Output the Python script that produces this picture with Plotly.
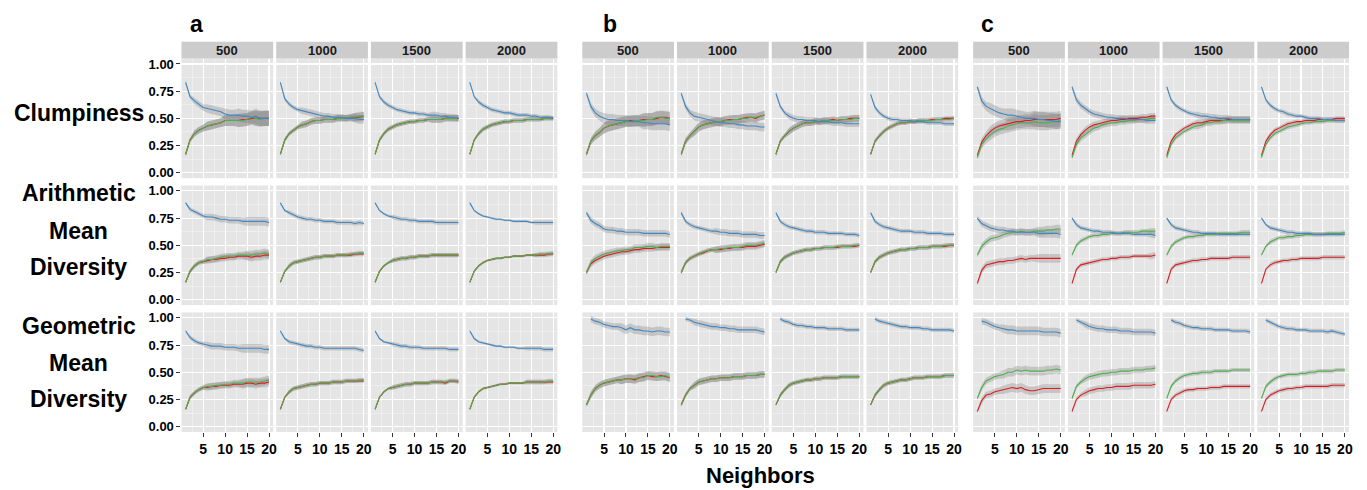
import plotly.graph_objects as go

W, H = 1367, 490
X = list(range(1, 21))
GROUPS = ["a", "b", "c"]
SIZES = ["500", "1000", "1500", "2000"]
METRICS = ["Clumpiness", "Arithmetic Mean Diversity", "Geometric Mean Diversity"]
Y_TICKS = [0, 0.25, 0.5, 0.75, 1.0]
Y_TICK_TEXT = ["0.00", "0.25", "0.50", "0.75", "1.00"]
X_TICKS = [5, 10, 15, 20]
X_TITLE = "Neighbors"
N = None

# ---- values in hundredths, one row per size (500, 1000, 1500, 2000) ----
# group a
a_clump_red = [
    [17,30,36,39,41,43,44,45,46,48,48,48,48,49,49,50,50,50,50,50],
    [17,30,36,39,42,44,45,47,48,48,49,49,49,50,50,50,51,51,51,52],
    [17,30,36,40,42,44,45,46,47,47,48,48,49,49,49,49,50,50,50,50],
    [17,30,36,40,42,44,45,46,47,47,48,48,48,49,49,49,49,50,50,50]]
a_clump_green = [
    [17,30,36,39,41,43,44,45,46,48,48,48,48,48,49,51,50,49,50,50],
    [17,30,36,39,42,44,45,47,48,48,49,49,49,50,50,50,51,51,52,52],
    [17,30,36,40,42,44,45,46,47,47,48,48,49,49,49,49,50,50,50,50],
    [17,30,36,40,42,44,45,46,47,47,48,48,48,49,49,49,49,50,50,50]]
a_clump_blue = [
    [83,70,66,63,60,59,58,57,56,54,53,53,53,52,52,51,52,50,50,50],
    [83,68,63,60,58,57,56,55,54,53,52,52,51,51,51,50,50,50,49,49],
    [83,70,65,62,60,58,57,56,55,55,54,54,53,53,53,52,52,51,51,50],
    [83,70,65,62,60,58,57,56,55,55,54,53,53,53,52,52,51,51,51,50]]
a_clump_band = [
    [2,2,3,3,3,4,4,4,4,5,5,5,6,6,6,6,7,7,7,7],
    [1,2,2,2,2,3,3,3,3,3,3,3,3,3,3,3,3,4,4,4],
    [1,2,2,2,2,2,2,2,2,2,2,2,2,3,3,3,3,3,3,3],
    [1,1,2,2,2,2,2,2,2,2,2,2,2,2,2,2,2,2,2,2]]

a_arith_red = [
    [16,26,31,34,35,36,37,37,38,38,39,39,40,40,40,39,40,40,41,41],
    [16,26,31,34,35,36,37,38,39,39,40,40,40,41,41,41,41,42,42,42],
    [16,26,31,34,36,37,38,38,39,39,40,40,40,41,41,41,41,41,41,41],
    [16,26,31,34,36,37,38,38,39,39,40,40,40,41,41,41,41,41,42,42]]
a_arith_green = [
    [16,26,31,34,35,37,37,38,39,40,40,40,41,41,41,41,42,42,43,42],
    [16,26,31,34,35,36,37,38,39,39,40,40,40,41,41,41,42,42,43,43],
    [16,26,31,34,36,37,38,38,39,39,40,40,40,41,41,41,41,41,41,41],
    [16,26,31,34,36,37,38,38,39,39,40,40,40,41,41,41,42,42,42,43]]
a_arith_blue = [
    [89,83,81,79,77,76,76,75,74,74,73,73,73,72,72,72,72,72,72,71],
    [89,82,80,78,76,75,74,74,73,73,72,72,72,71,71,71,71,70,71,70],
    [89,82,79,77,76,75,74,74,73,73,72,72,72,72,71,71,71,71,71,71],
    [89,82,79,77,76,75,74,74,73,73,72,72,72,72,71,71,71,71,71,71]]
a_arith_band = [
    [1,2,2,2,2,3,3,3,3,3,3,3,3,3,4,4,4,4,4,4],
    [1,1,2,2,2,2,2,2,2,2,2,2,2,2,2,2,2,2,2,2],
    [1,1,1,1,2,2,2,2,2,2,2,2,2,2,2,2,2,2,2,2],
    [1,1,1,1,1,1,1,1,1,1,1,1,1,1,1,2,2,2,2,2]]

a_geo_red = [
    [16,27,31,34,36,36,37,37,38,38,38,39,39,39,40,40,39,40,40,41],
    [16,27,32,35,36,37,38,39,39,40,40,40,41,41,41,42,42,42,42,42],
    [16,27,32,35,36,37,38,39,39,40,40,40,40,41,41,41,40,42,42,41],
    [16,27,32,35,36,37,38,39,39,40,40,40,40,41,41,41,41,41,41,41]]
a_geo_green = [
    [16,27,31,34,36,37,37,38,38,39,39,40,40,40,41,41,41,41,42,43],
    [16,27,32,35,36,37,38,39,39,40,40,40,41,41,41,42,42,42,43,43],
    [16,27,32,35,36,37,38,39,39,40,40,40,40,41,41,41,41,42,42,42],
    [16,27,32,35,36,37,38,39,39,40,40,40,40,41,41,41,41,41,42,42]]
a_geo_blue = [
    [88,82,79,77,76,75,74,74,74,73,73,73,72,72,72,72,72,72,71,71],
    [88,81,78,77,76,75,74,74,73,73,72,72,72,72,72,72,72,72,71,70],
    [88,81,78,77,76,75,74,74,73,73,73,72,72,72,72,72,72,71,71,71],
    [88,81,78,77,76,75,74,74,73,73,73,72,72,72,72,72,72,71,71,71]]
a_geo_band = [
    [1,2,2,2,2,3,3,3,3,3,3,3,3,4,4,4,4,4,4,4],
    [1,1,2,2,2,2,2,2,2,2,2,2,2,2,2,2,2,2,2,2],
    [1,1,1,1,2,2,2,2,2,2,2,2,2,2,2,2,2,2,2,2],
    [1,1,1,1,1,1,1,1,1,1,1,1,1,2,2,2,2,2,2,2]]

# group b
b_clump_red = [
    [17,29,34,37,41,43,44,45,46,47,48,48,48,49,49,49,50,51,51,50],
    [17,29,34,38,42,44,45,46,47,47,48,49,49,49,50,51,51,50,52,53],
    [17,29,34,38,41,43,45,46,46,47,47,48,48,49,48,49,49,50,50,50],
    [17,29,34,38,41,43,45,46,46,47,47,48,48,48,49,49,49,50,50,50]]
b_clump_green = [
    [17,29,34,37,41,43,44,45,46,47,47,48,48,48,49,49,51,51,50,50],
    [17,29,34,38,42,44,45,46,47,47,48,48,49,49,50,50,51,51,52,53],
    [17,29,34,38,41,43,45,46,46,47,47,48,48,48,48,49,49,49,50,50],
    [17,29,34,38,41,43,45,46,46,47,47,48,48,48,48,49,49,49,49,50]]
b_clump_blue = [
    [73,61,55,52,50,49,49,48,48,48,47,47,47,46,46,45,45,45,45,44],
    [73,61,55,52,51,50,49,48,47,46,46,45,45,44,44,43,43,43,42,42],
    [73,61,55,52,50,49,49,48,48,48,47,47,47,46,46,46,45,45,45,45],
    [72,60,55,52,50,49,49,48,48,48,47,47,47,46,46,46,46,45,45,45]]
b_clump_band = [
    [2,3,4,4,5,5,5,5,5,5,5,5,5,6,6,6,6,6,6,6],
    [2,3,3,4,4,4,4,4,4,4,4,4,4,4,4,4,4,4,4,4],
    [2,2,2,3,3,3,3,3,3,3,3,3,3,3,3,3,3,3,3,3],
    [1,2,2,2,2,2,2,2,2,2,2,2,2,2,2,2,2,2,2,2]]

b_arith_red = [
    [25,33,36,38,40,41,42,43,44,44,45,46,46,47,47,47,48,48,48,48],
    [25,34,38,40,42,43,45,46,46,46,47,47,48,48,48,49,49,49,50,51],
    [25,35,39,41,43,44,45,46,46,47,47,48,48,48,48,49,49,49,49,50],
    [25,35,39,41,43,44,45,46,46,47,47,48,48,48,49,49,49,49,50,50]]
b_arith_green = [
    [25,34,38,40,42,43,44,45,45,46,46,48,48,48,49,49,48,49,49,49],
    [25,34,38,40,42,44,45,46,46,47,47,48,48,48,49,50,50,50,51,52],
    [25,35,39,41,43,44,45,46,46,47,47,48,48,48,49,49,49,49,50,50],
    [25,35,39,41,43,44,45,46,46,47,47,48,48,48,49,49,49,50,50,50]]
b_arith_blue = [
    [80,73,70,68,65,64,64,63,63,62,62,62,62,61,61,61,61,61,61,60],
    [80,72,69,67,66,65,64,63,63,62,62,61,61,61,60,60,60,60,59,59],
    [80,72,69,67,66,65,64,63,63,62,62,62,61,61,61,61,60,60,60,59],
    [80,72,69,67,66,65,64,63,63,63,62,62,62,61,61,61,61,60,60,60]]
b_arith_band = [
    [2,3,3,3,3,3,3,3,3,3,3,3,3,3,3,3,3,3,3,3],
    [2,2,2,2,2,2,2,2,3,3,3,3,3,3,3,3,3,3,3,3],
    [1,2,2,2,2,2,2,2,2,2,2,2,2,2,2,2,2,2,2,2],
    [1,2,2,2,2,2,2,2,2,2,2,2,2,2,2,2,2,2,2,2]]

b_geo_red = [
    [20,29,35,38,40,41,42,43,43,44,44,43,45,46,47,46,46,47,46,45],
    [20,29,35,38,41,42,43,44,44,45,45,45,46,46,46,47,47,47,48,48],
    [20,29,34,38,40,41,42,43,43,44,44,45,45,45,45,46,46,46,46,46],
    [20,29,34,38,40,41,42,43,43,44,45,45,45,46,46,46,46,47,47,47]]
b_geo_green = [
    [20,29,35,38,40,41,42,43,43,44,44,44,45,45,47,47,46,46,47,45],
    [20,29,35,38,41,42,43,44,44,45,45,45,46,46,46,47,47,47,48,48],
    [20,29,34,38,40,41,42,43,43,44,44,45,45,45,45,46,46,46,46,46],
    [20,29,34,38,40,41,42,43,43,44,45,45,45,46,46,46,46,47,47,47]]
b_geo_blue = [
    [N,99,97,96,94,93,92,92,91,89,91,89,89,88,88,87,88,88,87,87],
    [N,99,98,96,95,94,93,92,92,91,91,90,90,89,89,89,89,89,88,87],
    [N,99,97,96,94,93,93,92,92,91,91,91,90,90,90,90,89,89,89,89],
    [N,99,97,96,95,94,93,92,92,91,91,91,90,90,89,89,89,89,89,88]]
b_geo_band = [
    [2,3,3,3,3,3,3,3,4,4,4,4,4,4,4,4,4,4,4,4],
    [2,2,2,3,3,3,3,3,3,3,3,3,3,3,3,3,3,3,3,3],
    [1,2,2,2,2,2,2,2,2,2,2,2,2,2,2,2,2,2,2,2],
    [1,2,2,2,2,2,2,2,2,2,2,2,2,2,2,2,2,2,2,2]]

# group c
c_clump_red = [
    [16,28,34,38,41,43,44,45,46,47,47,48,48,49,49,49,49,49,49,50],
    [16,29,35,39,42,44,45,46,47,48,48,49,49,50,50,50,51,51,52,52],
    [16,29,35,38,41,43,45,46,46,47,48,48,48,48,49,49,49,49,49,49],
    [16,29,35,39,41,43,45,46,47,47,48,48,48,49,49,49,49,50,50,50]]
c_clump_green = [
    [14,26,31,35,38,40,41,43,44,45,46,46,46,47,46,46,46,47,47,48],
    [14,26,32,35,38,41,42,44,45,46,46,47,47,48,48,49,49,49,50,50],
    [14,26,32,35,38,40,42,43,44,46,46,47,47,48,48,48,48,48,48,48],
    [14,26,32,36,38,40,42,43,44,45,46,46,47,47,47,48,48,48,48,48]]
c_clump_blue = [
    [79,66,61,59,57,55,54,53,53,52,51,50,50,50,49,49,48,48,47,47],
    [79,67,62,59,56,54,53,52,51,51,50,50,50,49,49,49,49,48,48,48],
    [79,67,62,59,57,55,54,53,52,52,51,51,50,50,50,49,49,49,49,49],
    [79,67,62,59,57,56,54,53,52,52,51,50,50,50,49,49,49,48,48,48]]
c_clump_band = [
    [2,4,4,5,5,5,5,6,6,6,6,6,6,7,7,7,7,7,7,7],
    [2,3,3,3,3,3,3,3,3,3,3,3,3,3,3,3,3,3,3,3],
    [2,2,2,2,2,2,2,3,3,3,3,3,3,3,3,3,3,3,3,3],
    [1,2,2,2,2,2,2,2,2,2,2,2,2,2,2,2,2,2,2,2]]

c_arith_red = [
    [15,27,32,33,34,35,35,36,36,37,38,37,38,38,38,38,38,38,38,38],
    [15,28,32,33,34,35,36,37,37,38,38,39,39,39,40,40,40,40,40,41],
    [15,28,32,33,34,35,36,36,37,37,38,38,38,38,38,39,39,39,39,39],
    [15,28,32,34,35,36,36,37,37,38,38,38,38,38,39,39,39,39,39,39]]
c_arith_green = [
    [41,49,53,56,57,58,60,61,62,62,63,62,62,63,63,63,64,64,65,65],
    [41,50,54,56,58,59,59,60,60,61,61,61,62,62,62,62,63,63,63,63],
    [41,49,53,55,57,58,58,59,59,60,60,60,61,61,61,61,61,62,62,62],
    [41,49,53,55,57,57,58,58,59,59,60,60,60,60,60,61,61,61,61,62]]
c_arith_blue = [
    [75,70,68,66,65,64,64,63,63,62,62,62,62,62,61,61,61,61,61,60],
    [75,69,66,65,64,63,63,62,62,62,61,61,61,61,60,60,60,60,60,59],
    [75,69,66,65,64,63,62,62,61,61,61,61,60,60,60,60,60,60,60,60],
    [75,69,66,65,64,63,62,62,61,61,61,61,60,60,60,60,60,60,60,60]]
c_arith_band = [
    [2,3,3,3,3,3,3,3,3,3,3,3,3,3,4,4,4,4,4,4],
    [1,2,2,2,2,2,2,2,2,2,2,2,2,2,2,2,2,2,3,3],
    [1,2,2,2,2,2,2,2,2,2,2,2,2,2,2,2,2,2,2,2],
    [1,1,2,2,2,2,2,2,2,2,2,2,2,2,2,2,2,2,2,2]]

c_geo_red = [
    [14,24,29,30,32,33,34,35,36,35,36,34,33,33,34,35,35,35,35,35],
    [14,25,29,31,33,34,35,35,36,36,37,37,37,37,38,38,38,38,38,39],
    [14,25,29,31,33,34,34,35,35,35,36,36,36,37,37,37,37,37,37,37],
    [14,25,29,31,33,34,35,35,36,36,37,37,37,37,37,37,38,38,38,38]]
c_geo_green = [
    [26,36,42,44,46,47,48,50,50,52,51,52,51,51,51,51,52,52,53,52],
    [26,37,41,44,46,47,48,49,49,50,50,51,51,51,52,52,52,53,53,54],
    [26,37,42,45,47,48,49,49,50,50,50,51,51,51,51,52,52,52,52,52],
    [26,37,41,44,46,47,48,48,48,49,49,50,50,51,51,51,51,52,52,52]]
c_geo_blue = [
    [N,97,96,94,92,91,90,89,89,88,88,88,88,88,88,87,87,87,87,86],
    [N,98,96,94,92,91,90,90,89,89,89,88,88,88,87,87,87,87,87,86],
    [N,98,96,95,93,92,91,91,90,90,90,89,89,89,89,88,88,88,88,87],
    [N,98,96,94,92,91,90,90,89,89,89,88,88,88,88,87,88,87,86,85]]
c_geo_band = [
    [2,3,3,3,3,3,4,4,4,4,4,4,4,4,4,4,4,4,4,4],
    [2,2,2,3,3,3,3,3,3,3,3,3,3,3,3,3,3,3,3,3],
    [1,2,2,2,2,2,2,2,2,2,2,2,2,2,2,2,2,2,2,2],
    [1,2,2,2,2,2,2,2,2,2,2,2,2,2,2,2,2,2,2,2]]

DATA = {
    "a": [(a_clump_red, a_clump_green, a_clump_blue, a_clump_band),
          (a_arith_red, a_arith_green, a_arith_blue, a_arith_band),
          (a_geo_red, a_geo_green, a_geo_blue, a_geo_band)],
    "b": [(b_clump_red, b_clump_green, b_clump_blue, b_clump_band),
          (b_arith_red, b_arith_green, b_arith_blue, b_arith_band),
          (b_geo_red, b_geo_green, b_geo_blue, b_geo_band)],
    "c": [(c_clump_red, c_clump_green, c_clump_blue, c_clump_band),
          (c_arith_red, c_arith_green, c_arith_blue, c_arith_band),
          (c_geo_red, c_geo_green, c_geo_blue, c_geo_band)],
}

# ---- styling / layout (pixels) ----
FONT = "Liberation Sans, Arial, Helvetica, sans-serif"
COLORS = ["#E41A1C", "#4DAF4A", "#3F88C5"]
BAND_FILL = "rgba(120,120,120,0.30)"
PANEL_BG = "#E5E5E5"
STRIP_BG = "#CCCCCC"
GROUP_LEFT = [182, 584, 976]
COL_STEP = 95
PANEL_W = 92
ROW_TOP = [57, 185, 313]
PANEL_H = 120.6
STRIP_TOP, STRIP_BOT = 40, 57
GROUP_LABEL_X = [197, 612, 990]
GROUP_LABEL_Y = 22
ROW_LABELS = [
    [("Clumpiness", 112)],
    [("Arithmetic", 193), ("Mean", 231), ("Diversity", 267)],
    [("Geometric", 327), ("Mean", 364), ("Diversity", 400)],
]
ROW_LABEL_X = 79


def px_x(v):
    return v / W


def px_y(v):
    return 1 - v / H


fig = go.Figure()
layout = {}
shapes = []
annotations = []

idx = 0
for g, gname in enumerate(GROUPS):
    for r in range(3):
        reds, greens, blues, bands = DATA[gname][r]
        for c in range(4):
            idx += 1
            xa = "x" if idx == 1 else f"x{idx}"
            ya = "y" if idx == 1 else f"y{idx}"
            x0 = GROUP_LEFT[g] + c * COL_STEP
            x1 = x0 + PANEL_W
            y0 = ROW_TOP[r]
            y1 = y0 + PANEL_H
            band = bands[c]
            series = [reds[c], greens[c], blues[c]]
            # ribbons first
            for s in series:
                pts = [(x, v / 100, b / 100) for x, v, b in zip(X, s, band) if v is not None]
                xs = [p[0] for p in pts]
                up = [p[1] + p[2] for p in pts]
                lo = [p[1] - p[2] for p in pts]
                fig.add_trace(go.Scatter(
                    x=xs + xs[::-1], y=up + lo[::-1], mode="lines",
                    fill="toself", fillcolor=BAND_FILL, line=dict(width=0),
                    hoverinfo="skip", showlegend=False, xaxis=xa, yaxis=ya))
            for s, col in zip(series, COLORS):
                pts = [(x, v / 100) for x, v in zip(X, s) if v is not None]
                fig.add_trace(go.Scatter(
                    x=[p[0] for p in pts], y=[p[1] for p in pts], mode="lines",
                    line=dict(color=col, width=1.1), hoverinfo="skip",
                    showlegend=False, xaxis=xa, yaxis=ya))

            key_x = "xaxis" if idx == 1 else f"xaxis{idx}"
            key_y = "yaxis" if idx == 1 else f"yaxis{idx}"
            bottom = (r == 2)
            left = (g == 0 and c == 0)
            layout[key_x] = dict(
                domain=[px_x(x0), px_x(x1)], anchor=ya, range=[0.05, 20.95],
                tickvals=X_TICKS, ticktext=[str(t) for t in X_TICKS],
                showticklabels=bottom, ticks="outside" if bottom else "",
                ticklen=4, tickwidth=1, tickcolor="#333333",
                tickfont=dict(family=FONT, size=14, color="#000000", weight="bold"),
                showgrid=True, gridcolor="#FFFFFF", gridwidth=1.1,
                zeroline=False, showline=False, fixedrange=True,
                minor=dict(tickvals=[2.5, 7.5, 12.5, 17.5], showgrid=True,
                           gridcolor="#F4F4F4", gridwidth=0.6, ticks=""),
            )
            layout[key_y] = dict(
                domain=[px_y(y1), px_y(y0)], anchor=xa, range=[-0.05, 1.05],
                tickvals=Y_TICKS, ticktext=Y_TICK_TEXT,
                showticklabels=left, ticks="outside" if left else "",
                ticklen=4, tickwidth=1, tickcolor="#333333",
                tickfont=dict(family=FONT, size=13, color="#000000", weight="bold"),
                showgrid=True, gridcolor="#FFFFFF", gridwidth=1.1,
                zeroline=False, showline=False, fixedrange=True,
                minor=dict(tickvals=[0.125, 0.375, 0.625, 0.875], showgrid=True,
                           gridcolor="#F4F4F4", gridwidth=0.6, ticks=""),
            )
            if r == 0:
                shapes.append(dict(type="rect", xref="paper", yref="paper",
                                   x0=px_x(x0), x1=px_x(x1),
                                   y0=px_y(STRIP_BOT), y1=px_y(STRIP_TOP),
                                   fillcolor=STRIP_BG, line=dict(width=0), layer="below"))
                annotations.append(dict(
                    text=SIZES[c], xref="paper", yref="paper",
                    x=px_x((x0 + x1) / 2), y=px_y((STRIP_TOP + STRIP_BOT) / 2),
                    xanchor="center", yanchor="middle", showarrow=False,
                    font=dict(family=FONT, size=13, color="#1A1A1A", weight="bold")))

for g, gname in enumerate(GROUPS):
    annotations.append(dict(
        text=gname, xref="paper", yref="paper",
        x=px_x(GROUP_LABEL_X[g]), y=px_y(GROUP_LABEL_Y),
        xanchor="center", yanchor="middle", showarrow=False,
        font=dict(family=FONT, size=23, color="#000000", weight="bold")))

for lines in ROW_LABELS:
    for text, yc in lines:
        annotations.append(dict(
            text=text, xref="paper", yref="paper",
            x=px_x(ROW_LABEL_X), y=px_y(yc),
            xanchor="center", yanchor="middle", showarrow=False,
            font=dict(family=FONT, size=23, color="#000000", weight="bold")))

annotations.append(dict(
    text=X_TITLE, xref="paper", yref="paper",
    x=px_x(763), y=px_y(477), xanchor="center", yanchor="middle", showarrow=False,
    font=dict(family=FONT, size=22, color="#000000", weight="bold")))

fig.update_layout(
    width=W, height=H, margin=dict(l=0, r=0, t=0, b=0),
    paper_bgcolor="#FFFFFF", plot_bgcolor=PANEL_BG,
    shapes=shapes, annotations=annotations, showlegend=False,
    **layout,
)

fig.write_html(
    "out.html",
    config={"displayModeBar": False, "staticPlot": True},
    post_script="document.body.style.margin='0';document.body.style.padding='0';"
                "document.body.style.overflow='hidden';",
)
